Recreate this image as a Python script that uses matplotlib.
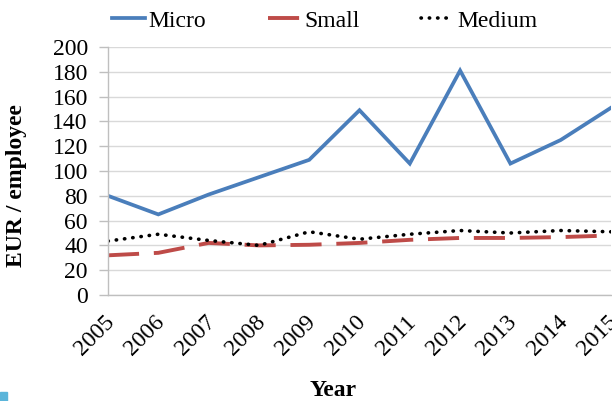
import numpy as np
import matplotlib
matplotlib.use("Agg")
import matplotlib.pyplot as plt
import matplotlib.transforms as mtransforms
from matplotlib.patches import Rectangle

years = [2005, 2006, 2007, 2008, 2009, 2010, 2011, 2012, 2013, 2014, 2015]
micro = [80, 65, 81, 95, 109, 149, 106, 181, 106, 125, 151]
small = [32, 34, 42, 40, 40.5, 42, 44.5, 46, 46, 46.7, 48]
medium = [43.5, 49, 44, 40, 51, 45, 49, 52, 50, 52, 51]
yticks = list(range(0, 201, 20))

plt.rcParams['font.family'] = ['Liberation Serif', 'DejaVu Serif']

fig = plt.figure(figsize=(6.12, 4.01), dpi=100)
ax = fig.add_axes([108 / 612, 1 - 295 / 401, 503 / 612, 248 / 401])

ax.plot(years, micro, color='#4A7EBB', lw=2.7, label='Micro', solid_joinstyle='miter')
ax.plot(years, small, color='#BE4B48', lw=2.8, ls=(0, (8.0, 3.8)), label='Small')
ax.plot(years, medium, color='black', lw=2.6, ls=(0, (0.1, 2.2)),
        dash_capstyle='round', label='Medium')

ax.set_xlim(2005, 2015)
ax.set_ylim(0, 200)
ax.set_yticks(yticks)
ax.set_xticks(years)
ax.set_xticklabels([str(y) for y in years], rotation=45, ha='right',
                   rotation_mode='anchor')
ax.tick_params(axis='y', labelsize=17, length=6.5, color='#BFBFBF', width=1, pad=8)
ax.tick_params(axis='x', labelsize=17, length=0, pad=12)
# nudge the rotated year labels a little to the left
shift = mtransforms.ScaledTranslation(-4 / 100, 0, fig.dpi_scale_trans)
for lab in ax.get_xticklabels():
    lab.set_transform(lab.get_transform() + shift)
ax.grid(axis='y', color='#D9D9D9', lw=1)
ax.set_axisbelow(True)
for s in ['top', 'right']:
    ax.spines[s].set_visible(False)
for s in ['left', 'bottom']:
    ax.spines[s].set_color('#BFBFBF')
    ax.spines[s].set_linewidth(1)

fig.text(17 / 612, 1 - 186 / 401, 'EUR / employee', fontsize=17, fontweight='bold',
         rotation=90, ha='center', va='center')
fig.text(333 / 612, 1 - 390 / 401, 'Year', fontsize=17, fontweight='bold',
         ha='center', va='center')

fig.legend(loc='center', bbox_to_anchor=(325 / 612, 1 - 21 / 401), ncol=3,
           frameon=False, fontsize=17, handlelength=1.4, handletextpad=0.15,
           columnspacing=2.6)

fig.patches.append(Rectangle((0, 0), 7 / 612, 9 / 401, transform=fig.transFigure,
                             color='#5BB5DA', figure=fig))

fig.savefig('out.png', dpi=100)
